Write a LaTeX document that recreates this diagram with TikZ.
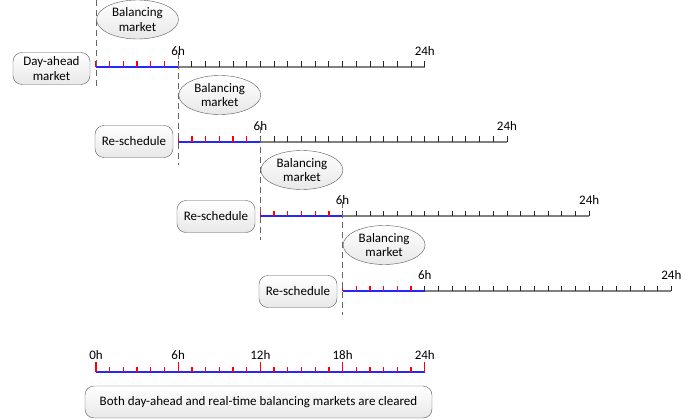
\documentclass[tikz,border=0pt]{standalone}
\usepackage{fontspec}
\setmainfont{Carlito}
\usetikzlibrary{shapes.geometric}
\tikzset{
  market/.style={ellipse, draw=black!65, top color=white, bottom color=black!9, minimum width=82pt, minimum height=39pt, inner sep=0pt, align=center, font=\fontsize{13}{14.5}\selectfont},
  sched/.style={rectangle, rounded corners=9pt, draw=black!65, top color=white, bottom color=black!9, minimum height=32pt, inner sep=3pt, align=center, font=\fontsize{13}{14.5}\selectfont},
  hourlabel/.style={font=\fontsize{13}{14.5}\selectfont, inner sep=0pt},
  marker/.style={black!60, line width=1pt, dash pattern=on 6pt off 4pt},
  redtick/.style={red, line width=1.3pt},
  blktick/.style={black!85, line width=0.9pt}
}
\begin{document}
\begin{tikzpicture}[x=1pt,y=-1pt]
			\useasboundingbox (0,0) rectangle (697,420);
			
			%%%%% rolling horizons %%%%%
			\foreach \k in {0,...,3}{
				\pgfmathsetmacro\xo{96+82.2*\k}
				\pgfmathsetmacro\yo{round(67+74.7*\k)}
				\draw[black!50, line width=2pt] (\xo+82.2, \yo) -- (\xo+328.8, \yo);
				\draw[blue!85!white, line width=2pt] (\xo, \yo) -- (\xo+82.2, \yo);
				\foreach \i in {0,...,5}
					\draw[redtick] (\xo+13.7*\i, \yo) -- (\xo+13.7*\i, \yo-5.5);
				\foreach \i in {6,...,24}
					\draw[blktick] (\xo+13.7*\i, \yo) -- (\xo+13.7*\i, \yo-5.5);
				\node[hourlabel] (six\k) at (\xo+82.2, \yo-16) {6h};
				\node[hourlabel] (end\k) at (\xo+328.8, \yo-16) {24h};
			}
			
			%%%%% dashed markers %%%%%
			\draw[marker] (96, 0) -- (96, 87);
			\draw[marker] (178.2, 53) -- (178.2, 165);
			\draw[marker] (260.4, 127) -- (260.4, 240);
			\draw[marker] (342.6, 202) -- (342.6, 315);
			
			%%%%% markets %%%%%
			\node[market] (bm0) at (137.5, 19.5) {Balancing\\market};
			\node[market] (bm1) at (219.7, 95) {Balancing\\market};
			\node[market] (bm2) at (301.9, 170) {Balancing\\market};
			\node[market] (bm3) at (384.1, 245) {Balancing\\market};
			
			\node[sched, minimum width=77pt] (dam) at (51.5, 68.5) {Day-ahead\\market};
			\node[sched, minimum width=78pt] (rs1) at (134, 141.5) {Re-schedule};
			\node[sched, minimum width=78pt] (rs2) at (216, 216.5) {Re-schedule};
			\node[sched, minimum width=78pt] (rs3) at (298, 291.5) {Re-schedule};
			
			%%%%% full day %%%%%
			\draw[blue!85!white, line width=2pt] (96, 372) -- (424.8, 372);
			\foreach \i in {0,...,24}
				\draw[redtick] (96+13.7*\i, 372) -- (96+13.7*\i, 366.5);
			\foreach \i/\t in {0/0h, 6/6h, 12/12h, 18/18h, 24/24h}{
				\draw[redtick] (96+13.7*\i, 372) -- (96+13.7*\i, 361.5);
				\node[hourlabel] (day\i) at (96+13.7*\i, 355) {\t};
			}
			\node[sched, minimum width=347pt] (clear) at (258.5, 402) {Both day-ahead and real-time balancing markets are cleared};
			
\end{tikzpicture}
\end{document}
